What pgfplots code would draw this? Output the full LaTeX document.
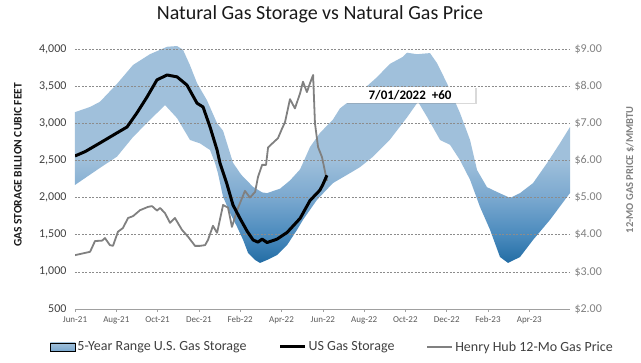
\documentclass[border=0pt]{standalone}
\usepackage{pgfplots}
\pgfplotsset{compat=1.18}
\usepackage{fontspec}
\setmainfont{Carlito}
\usetikzlibrary{shadows}
\definecolor{bandtop}{RGB}{160,192,219}
\definecolor{bandmid}{RGB}{122,168,207}
\definecolor{bandlow}{RGB}{72,137,188}
\definecolor{banddark}{RGB}{34,108,164}
\definecolor{pricegray}{RGB}{128,128,128}
\definecolor{gridgray}{RGB}{140,140,140}
\definecolor{axisgray}{RGB}{160,160,160}
\definecolor{ticktext}{RGB}{64,64,64}
\definecolor{xtext}{RGB}{89,89,89}
\pgfdeclareverticalshading{bandshade}{100bp}{color(0bp)=(banddark); color(25bp)=(banddark); color(31bp)=(bandlow); color(40bp)=(bandmid); color(49bp)=(bandtop); color(100bp)=(bandtop)}
\pgfdeclareverticalshading{legendshade}{100bp}{color(0bp)=(bandmid); color(25bp)=(bandmid); color(75bp)=(bandtop); color(100bp)=(bandtop)}
\pgfplotsset{
  base/.style={scale only axis, width=495bp, height=260bp, xmin=0, xmax=23.97,
    /pgf/number format/assume math mode=true},
}
\begin{document}
\begin{tikzpicture}
\useasboundingbox (-75bp,-54bp) rectangle (566bp,309bp);
% ---- axis 1: storage, grid, band
\begin{axis}[base, clip=false,
  ymin=500, ymax=4000, ytick={500,1000,...,4000},
  axis on top,
  axis x line*=bottom, axis y line*=left,
  y axis line style={draw=none}, ytick style={draw=none},
  x axis line style={draw=axisgray, line width=0.8bp},
  xtick={0,2,...,22},
  xticklabels={Jun-21,Aug-21,Oct-21,Dec-21,Feb-22,Apr-22,Jun-22,Aug-22,Oct-22,Dec-22,Feb-23,Apr-23},
  xtick style={draw=axisgray, line width=0.6bp}, tick align=outside, major tick length=3bp,
  xticklabel style={font=\fontsize{9bp}{10bp}\selectfont, text=xtext, yshift=-1bp},
  yticklabel style={font=\fontsize{12bp}{14bp}\selectfont, text=ticktext, xshift=-2bp},
  /pgf/number format/.cd, 1000 sep={,}, /pgfplots/.cd,
  ymajorgrids, grid style={draw=gridgray, dash pattern=on 2bp off 1.5bp, line width=0.7bp},
]
\addplot[draw=none, shade, shading=bandshade] coordinates {
(0,3150) (0.73,3220) (1.21,3290) (2.03,3530) (2.81,3785) (3.63,3930) (4.46,4030) (4.94,4040)
(5.23,3990) (5.57,3780) (5.91,3540) (6.39,3310) (6.88,3000) (7.17,2900) (7.65,2470) (7.99,2330)
(8.14,2280) (8.62,2145) (9.06,2070) (9.30,2060) (9.93,2120) (10.41,2230) (10.90,2380) (11.38,2680)
(11.86,2870) (12.49,3050) (12.83,3200) (13.66,3380) (14.62,3620) (15.25,3800) (15.85,3890) (16.08,3950)
(16.56,3930) (17.19,3945) (17.53,3810) (18.01,3540) (18.64,3140) (19.13,2775) (19.47,2370) (19.95,2140)
(20.44,2075) (21.07,1995) (21.55,2060) (22.18,2195) (22.86,2465) (23.49,2735) (23.97,2950)
(23.97,2060) (23.83,2010) (23.00,1700) (22.18,1430) (21.55,1200) (20.97,1120) (20.58,1200) (20.10,1565)
(19.61,1875) (19.13,2240) (18.64,2505) (18.16,2710) (17.68,2775) (17.05,3085) (16.61,3290) (16.08,3080)
(15.25,2780) (14.43,2550) (13.80,2410) (13.32,2330) (12.49,2195) (11.72,1970) (11.04,1700) (10.75,1565)
(10.27,1360) (9.78,1225) (9.30,1160) (8.96,1120) (8.72,1160) (8.38,1255) (8.14,1430) (7.85,1605)
(7.51,1790) (7.17,2010) (6.92,2330) (6.78,2465) (6.54,2640) (6.05,2730) (5.57,2775) (4.94,3070)
(4.36,3245) (3.63,3045) (2.81,2815) (2.03,2550) (1.21,2400) (0,2170)
} -- cycle;
\end{axis}
% ---- axis 2: price
\begin{axis}[base,
  ymin=2, ymax=9, ytick={2,...,9},
  axis x line=none, axis y line*=right,
  y axis line style={draw=none}, ytick style={draw=none},
  yticklabel={\$\pgfmathprintnumber[fixed,fixed zerofill,precision=2]{\tick}},
  yticklabel style={font=\fontsize{12bp}{14bp}\selectfont, text=pricegray, xshift=1bp},
]
\addplot[pricegray, line width=1.8bp, line join=round] coordinates {
(0,3.45) (0.73,3.54) (0.97,3.83) (1.31,3.84) (1.45,3.91) (1.69,3.72) (1.84,3.70) (2.08,4.08)
(2.32,4.18) (2.57,4.45) (2.81,4.50) (3.15,4.66) (3.54,4.75) (3.73,4.77) (3.97,4.65) (4.12,4.72)
(4.36,4.58) (4.60,4.32) (4.84,4.45) (5.18,4.13) (5.47,3.95) (5.81,3.70) (6.05,3.70) (6.30,3.72)
(6.44,3.86) (6.68,4.24) (6.88,4.05) (7.17,4.80) (7.41,4.73) (7.60,4.21) (7.85,4.66) (8.23,5.18)
(8.47,5.00) (8.72,5.15) (8.86,5.55) (9.06,5.88) (9.25,5.88) (9.35,6.35) (9.54,6.45) (9.83,6.60)
(10.02,6.85) (10.17,7.03) (10.41,7.65) (10.65,7.40) (10.90,7.81) (11.04,8.12) (11.23,7.84) (11.38,8.08)
(11.53,8.30) (11.62,7.00) (11.77,6.36) (11.96,6.09) (12.20,5.45)
};
\end{axis}
% ---- axis 3: US storage line and legend
\begin{axis}[base, ymin=500, ymax=4000, hide axis,
  legend style={at={(0.52,-0.146)}, anchor=center, draw=none, fill=none,
    legend columns=3, font=\fontsize{14bp}{16bp}\selectfont, text=ticktext,
    /tikz/every even column/.append style={column sep=30bp}},
  legend cell align=left,
  legend image code/.code={\draw[#1] (0bp,0bp) -- (25bp,0bp);},
]
\addlegendimage{legend image code/.code={\fill[shade, shading=legendshade] (0bp,-4bp) rectangle (25bp,4bp);}}
\addplot[black, line width=3bp, line join=round] coordinates {
(0,2560) (0.5,2620) (1.21,2735) (2.03,2870) (2.52,2950) (3.00,3140) (3.49,3355) (3.97,3585)
(4.46,3650) (4.94,3625) (5.42,3515) (5.91,3270) (6.20,3220) (6.54,2950) (6.88,2640) (7.02,2465)
(7.36,2180) (7.65,1900) (7.99,1720) (8.33,1550) (8.62,1430) (8.86,1400) (9.06,1440) (9.30,1395)
(9.78,1440) (10.27,1530) (10.90,1720) (11.38,1960) (11.86,2100) (12.01,2180) (12.20,2300)
};
\addlegendimage{pricegray, line width=1.8bp}
\legend{5-Year Range U.S. Gas Storage, US Gas Storage, Henry Hub 12-Mo Gas Price}
\end{axis}
% ---- texts
\node[font=\fontsize{20bp}{23bp}\selectfont, text=black!90] at (245bp,295bp) {Natural Gas Storage vs Natural Gas Price};
\node[rotate=90, font=\bfseries\fontsize{11.5bp}{13bp}\selectfont, text=black!90] at (-57bp,144bp) {GAS STORAGE BILLION CUBIC FEET};
\node[rotate=90, font=\bfseries\fontsize{10.5bp}{12bp}\selectfont, text=pricegray] at (555bp,139bp) {12-MO GAS PRICE \$/MMBTU};
\node[fill=white, minimum width=130bp, minimum height=16bp, inner sep=0pt,
  drop shadow={opacity=0.3, shadow xshift=1.5bp, shadow yshift=-1.5bp},
  font=\bfseries\fontsize{13bp}{15bp}\selectfont] at (335bp,214bp) {7/01/2022\ \ +60};
\end{tikzpicture}
\end{document}
